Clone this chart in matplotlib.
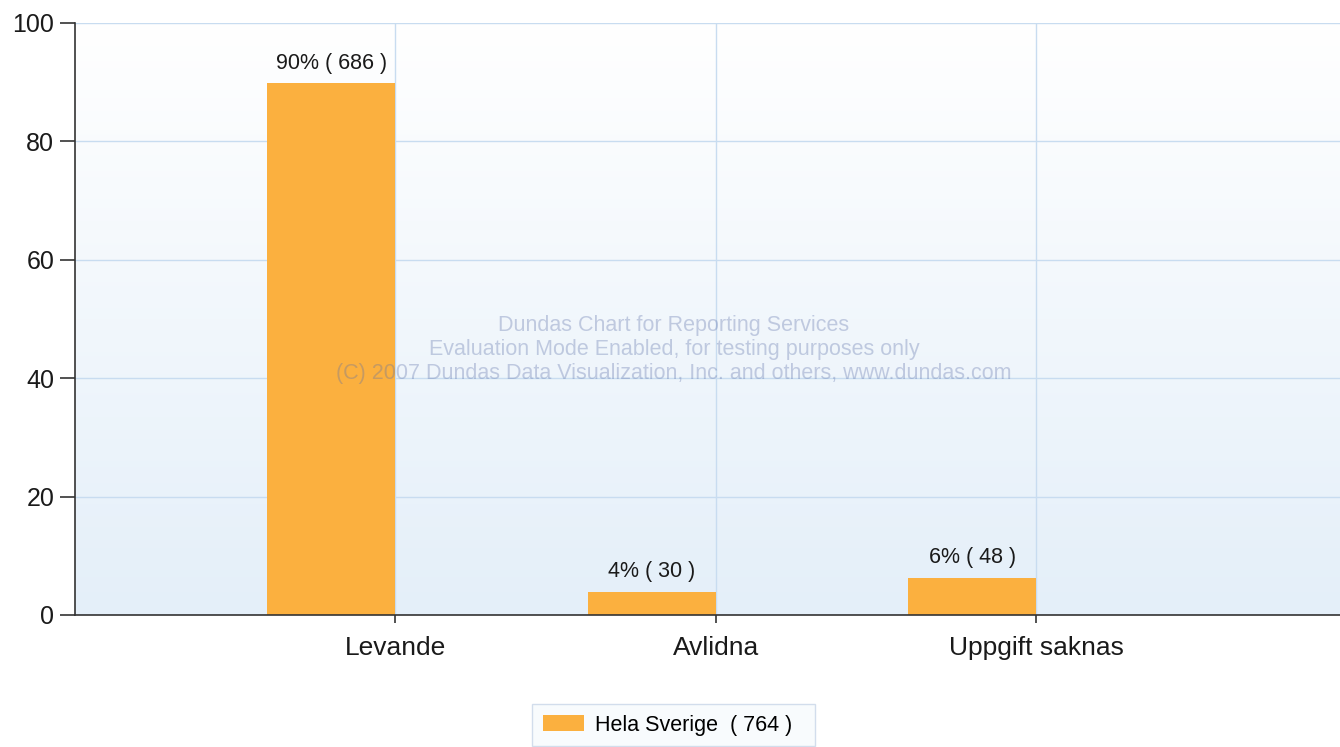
import matplotlib
matplotlib.use("Agg")
import matplotlib.pyplot as plt
import numpy as np
from matplotlib.patches import Patch
from matplotlib.colors import LinearSegmentedColormap

categories = ["Levande", "Avlidna", "Uppgift saknas"]
percent = [89.8, 3.9, 6.3]
counts = [686, 30, 48]
pct_labels = ["90%", "4%", "6%"]
series_name = "Hela Sverige"
series_total = 764
yticks = [0, 20, 40, 60, 80, 100]

plt.rcParams['font.family'] = ['Liberation Sans', 'DejaVu Sans']

fig = plt.figure(figsize=(13.4, 7.47), dpi=100)
ax = fig.add_axes([75/1340, 132/747, 1 - 75/1340, (615-23)/747])

xmax = 3.947
# gradient background
grad = np.linspace(0, 1, 256).reshape(-1, 1)
cmap = LinearSegmentedColormap.from_list("bg", ["#e4eff9", "#ffffff"])
ax.imshow(grad, extent=[0, xmax, 0, 100], origin="lower", aspect="auto",
          cmap=cmap, zorder=0)

x = np.arange(1, len(categories) + 1)
bar_color = "#fbb03f"
ax.bar(x, percent, width=-0.4, align="edge", color=bar_color, zorder=3)

for xi, p, pl, c in zip(x, percent, pct_labels, counts):
    ax.annotate(f"{pl} ( {c} )", (xi - 0.2, p), xytext=(0, 7),
                textcoords="offset points", ha="center", va="bottom",
                fontsize=15.5, color="#1a1a1a", zorder=5)

ax.set_xlim(0, xmax)
ax.set_ylim(0, 100)
ax.set_yticks(yticks)
ax.set_xticks(x)
ax.set_xticklabels(categories, fontsize=19, color="#1a1a1a")
ax.tick_params(axis="y", labelsize=18, length=11, width=1.2, color="#333333",
               labelcolor="#1a1a1a", pad=4)
ax.tick_params(axis="x", length=6, width=1.2, color="#333333", pad=9)

ax.grid(True, color="#c8dcf0", linewidth=1.0, zorder=1)
ax.set_axisbelow(True)
for s in ["top", "right"]:
    ax.spines[s].set_visible(False)
for s in ["left", "bottom"]:
    ax.spines[s].set_color("#333333")
    ax.spines[s].set_linewidth(1.2)
    ax.spines[s].set_zorder(4)

# watermark
wm = ["Dundas Chart for Reporting Services",
      "Evaluation Mode Enabled, for testing purposes only",
      "(C) 2007 Dundas Data Visualization, Inc. and others, www.dundas.com"]
for i, line in enumerate(wm):
    fig.text(674/1340, 1 - (325 + 24*i)/747, line, ha="center", va="center",
             fontsize=15.5, color="#5b6ea8", alpha=0.33, zorder=10)

leg = fig.legend(handles=[Patch(facecolor=bar_color, edgecolor="none",
                                label=f"{series_name}  ( {series_total} )  ")],
                 loc="center", bbox_to_anchor=(673.5/1340, 1 - 725/747),
                 fontsize=15.5, frameon=True, fancybox=False,
                 handlelength=1.9, handleheight=0.7, borderpad=0.5,
                 handletextpad=0.5, borderaxespad=0)
leg.get_frame().set_edgecolor("#c8d6e8")
leg.get_frame().set_facecolor("#f7fafd")
leg.get_frame().set_linewidth(1.0)

fig.savefig("out.png", dpi=100)
